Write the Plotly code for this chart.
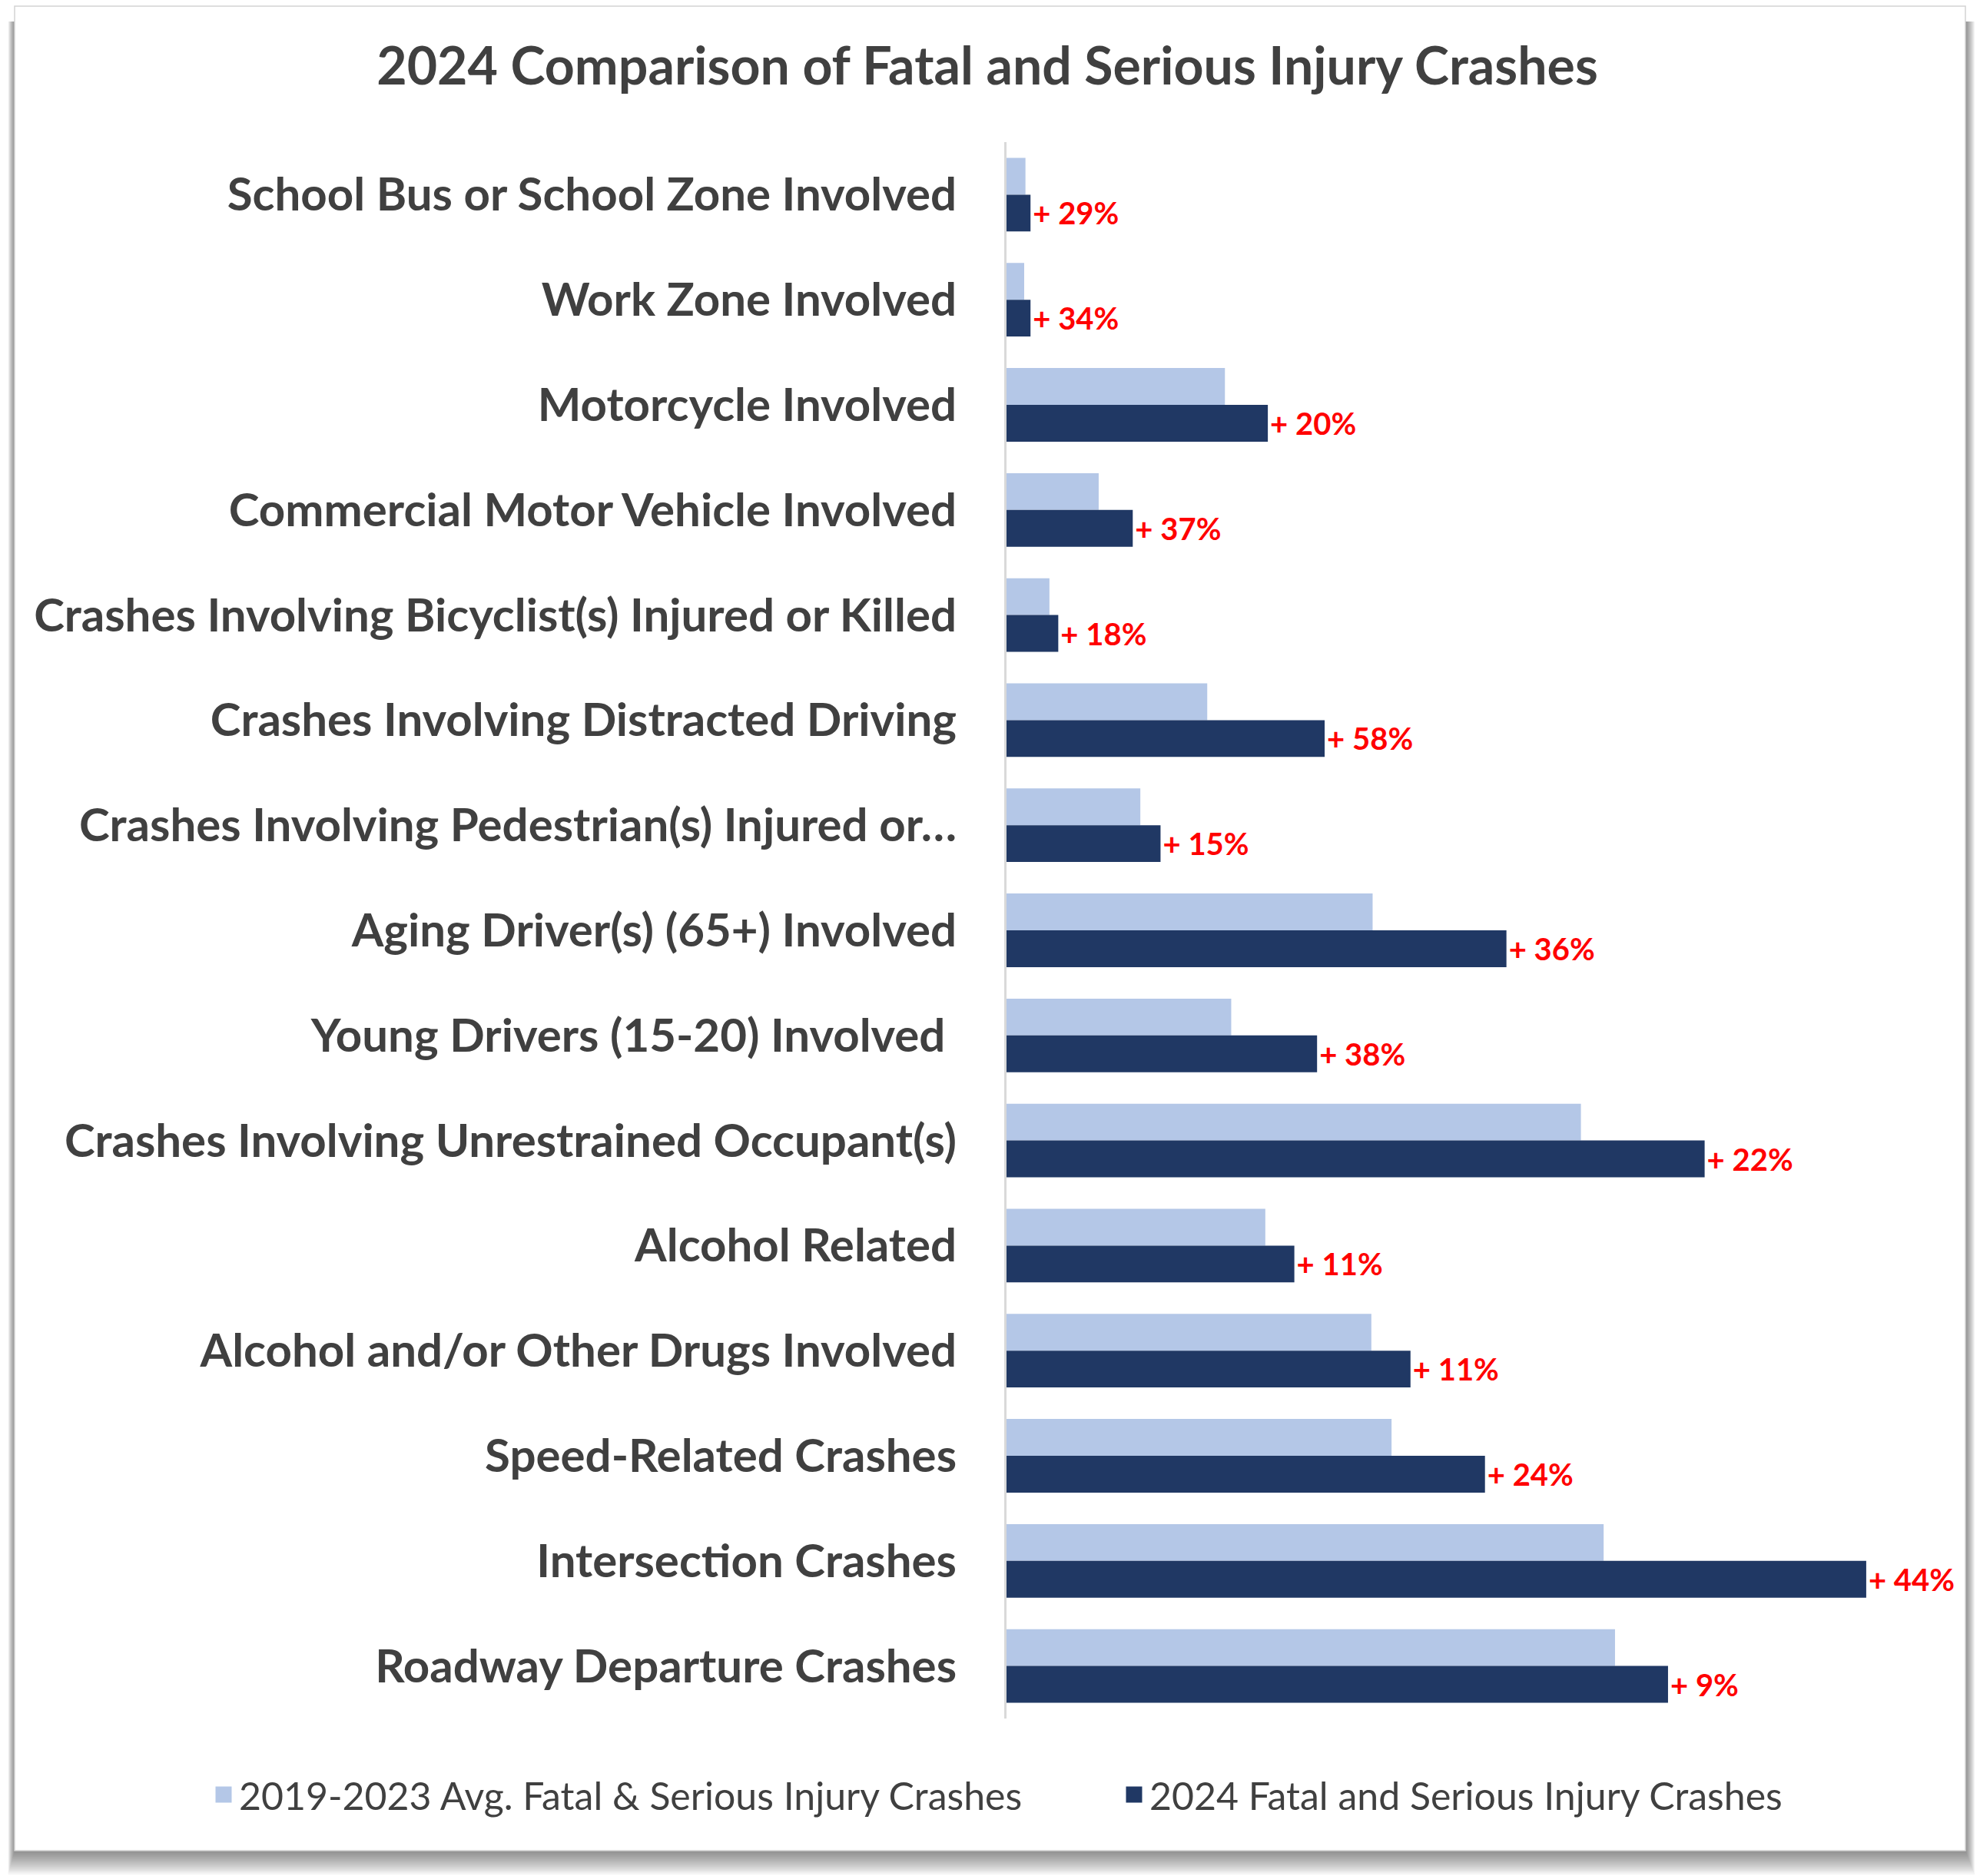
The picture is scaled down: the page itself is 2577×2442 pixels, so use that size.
import plotly.graph_objects as go

# ── data (top to bottom) ──────────────────────────────────────────────────
CATEGORIES = [
    "School Bus or School Zone Involved",
    "Work Zone Involved",
    "Motorcycle Involved",
    "Commercial Motor Vehicle Involved",
    "Crashes Involving Bicyclist(s) Injured or Killed",
    "Crashes Involving Distracted Driving",
    "Crashes Involving Pedestrian(s) Injured or…",
    "Aging Driver(s) (65+) Involved",
    "Young Drivers (15-20) Involved ",
    "Crashes Involving Unrestrained Occupant(s)",
    "Alcohol Related",
    "Alcohol and/or Other Drugs Involved",
    "Speed-Related Crashes",
    "Intersection Crashes",
    "Roadway Departure Crashes",
]
AVG_2019_2023 = [15, 14, 173, 73, 34, 159, 106, 290, 178, 455, 205, 289, 305, 473, 482]
FSI_2024      = [19, 19, 207, 100, 41, 252, 122, 396, 246, 553, 228, 320, 379, 681, 524]
PCT_LABELS = ["+ 29%", "+ 34%", "+ 20%", "+ 37%", "+ 18%", "+ 58%", "+ 15%", "+ 36%",
              "+ 38%", "+ 22%", "+ 11%", "+ 11%", "+ 24%", "+ 44%", "+ 9%"]
SERIES_NAMES = ["2019-2023 Avg. Fatal & Serious Injury Crashes",
                "2024 Fatal and Serious Injury Crashes"]

# ── styling ───────────────────────────────────────────────────────────────
FONT = "Lato, Open Sans, sans-serif"
TEXT_GREY = "#404040"
LIGHT = "#b4c7e7"
DARK = "#203864"

W, H = 2577, 2442
L, R = 1310, 2539      # plot area, px
T, B = 185, 2237


def px_x(px):
    return (px - L) / (R - L)


def px_y(py):
    return (B - py) / (B - T)


fig = go.Figure()
fig.add_trace(go.Bar(
    y=CATEGORIES, x=AVG_2019_2023, name=SERIES_NAMES[0], orientation="h",
    marker=dict(color=LIGHT, line=dict(width=0)),
    legendgroup="avg", showlegend=False, hoverinfo="x+name",
))
fig.add_trace(go.Bar(
    y=CATEGORIES, x=FSI_2024, name=SERIES_NAMES[1], orientation="h",
    marker=dict(color=DARK, line=dict(width=0)),
    text=PCT_LABELS, textposition="outside", constraintext="none",
    outsidetextfont=dict(family=FONT, size=40, color="#ff0000", weight="bold"),
    cliponaxis=False, legendgroup="y2024", showlegend=False, hoverinfo="x+name",
))

# legend entries with bigger square swatches
for name, col, grp in [(SERIES_NAMES[0], LIGHT, "avg"), (SERIES_NAMES[1], DARK, "y2024")]:
    fig.add_trace(go.Scatter(
        x=[None], y=[None], mode="markers", name=name, legendgroup=grp,
        marker=dict(symbol="square", size=16, color=col, line=dict(color=col, width=5)),
    ))

# card with drop shadow behind the chart
shapes = []
CX0, CX1, CY0, CY1 = 19, 2558, 8, 2409
for k in range(1, 13):
    shapes.append(dict(
        type="rect", xref="paper", yref="paper", layer="below",
        x0=px_x(CX0 - k * 0.7), x1=px_x(CX1 + k * 1.0),
        y0=px_y(CY1 + k * 2.6), y1=px_y(CY0 + 20),
        fillcolor="rgba(0,0,0,0.045)", line=dict(width=0),
    ))
shapes.append(dict(
    type="rect", xref="paper", yref="paper", layer="below",
    x0=px_x(CX0), x1=px_x(CX1), y0=px_y(CY1), y1=px_y(CY0),
    fillcolor="white", line=dict(color="#d4d4d4", width=1.5),
))

fig.update_layout(
    width=W, height=H,
    barmode="group", bargap=0.30, bargroupgap=0,
    paper_bgcolor="white", plot_bgcolor="rgba(0,0,0,0)",
    margin=dict(l=L, r=W - R, t=T, b=H - B, pad=0, autoexpand=False),
    title=dict(
        text="2024 Comparison of Fatal and Serious Injury Crashes",
        x=1285 / W, xanchor="center", xref="container",
        y=1 - 86 / H, yanchor="middle", yref="container",
        font=dict(family=FONT, size=68, color=TEXT_GREY, weight="bold"),
    ),
    xaxis=dict(range=[0, 748], showgrid=False, zeroline=False,
               showticklabels=False, showline=False, fixedrange=True),
    yaxis=dict(autorange="reversed", showgrid=False, zeroline=False,
               showline=True, linecolor="#d9d9d9", linewidth=3,
               ticks="", ticklabelstandoff=50, automargin=False,
               tickfont=dict(family=FONT, size=60, color=TEXT_GREY, weight="bold")),
    legend=dict(
        orientation="h", xanchor="left", x=px_x(271),
        yanchor="middle", y=px_y(2336),
        font=dict(family=FONT, size=50, color=TEXT_GREY),
        bgcolor="rgba(0,0,0,0)", entrywidth=1140, traceorder="normal",
        itemsizing="trace",
    ),
    shapes=shapes,
    showlegend=True,
)

fig.write_html("out.html", config={"displayModeBar": False},
               post_script="document.body.style.margin='0';")
